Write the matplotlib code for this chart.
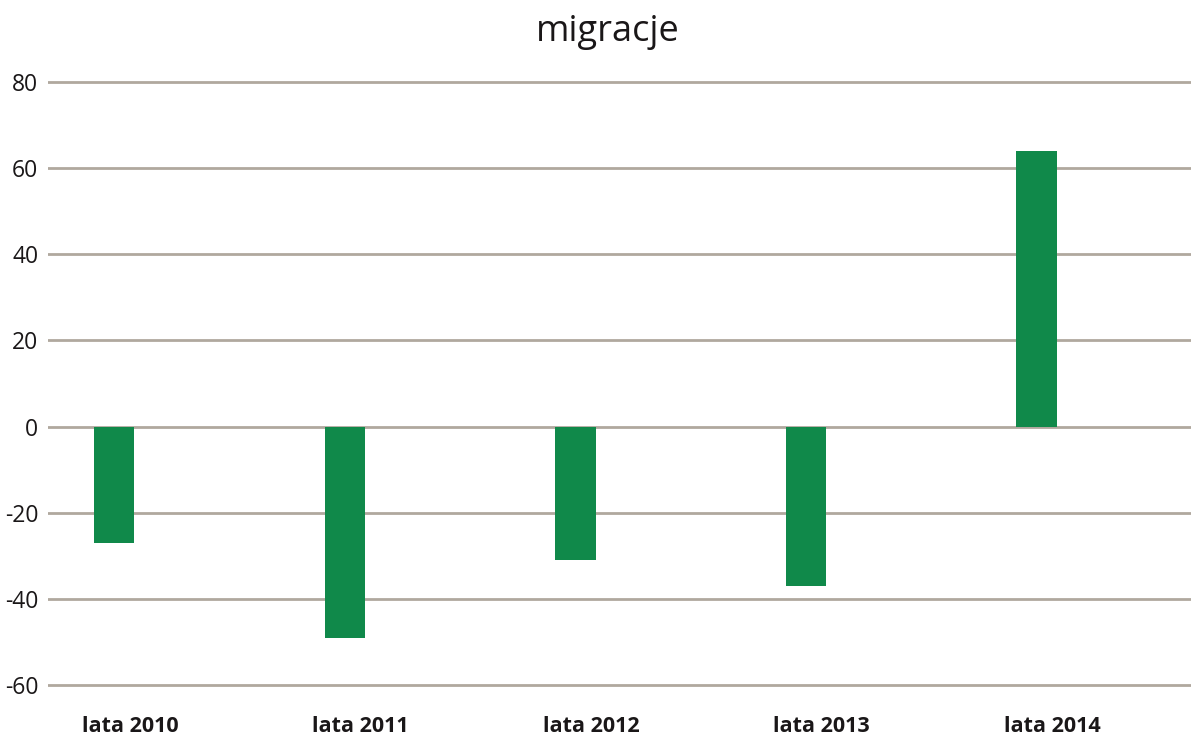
import matplotlib.pyplot as plt
import numpy as np

plt.rcParams['font.family'] = ['Open Sans', 'DejaVu Sans']

categories = ['lata 2010', 'lata 2011', 'lata 2012', 'lata 2013', 'lata 2014']
values = [-27, -49, -31, -37, 64]
yticks = [-60, -40, -20, 0, 20, 40, 60, 80]

fig = plt.figure(figsize=(11.91, 7.42), dpi=100)
ax = fig.add_axes([48 / 1191, 1 - 687.2 / 742, 1 - 48 / 1191, 607.4 / 742])

x = np.arange(len(categories))
ax.bar(x, values, width=0.175, color='#10894a', zorder=3)

ax.set_ylim(-60.5, 80.5)
ax.set_xlim(-0.287, 4.67)
ax.set_yticks(yticks)
ax.set_yticklabels([str(v) for v in yticks], fontsize=16.5)
ax.set_xticks(x + 0.068)
ax.set_xticklabels(categories, fontsize=15.5, fontweight='bold', color='#231f20')
ax.tick_params(axis='both', length=0, colors='#1a1718')
ax.tick_params(axis='y', pad=7)
ax.tick_params(axis='x', pad=21)
ax.yaxis.grid(True, color='#b0a89e', linewidth=2, zorder=0)
for s in ax.spines.values():
    s.set_visible(False)

fig.text(0.51, 0.957, 'migracje', ha='center', va='center', fontsize=26, color='#1a1718')

fig.savefig('out.png', dpi=100)
